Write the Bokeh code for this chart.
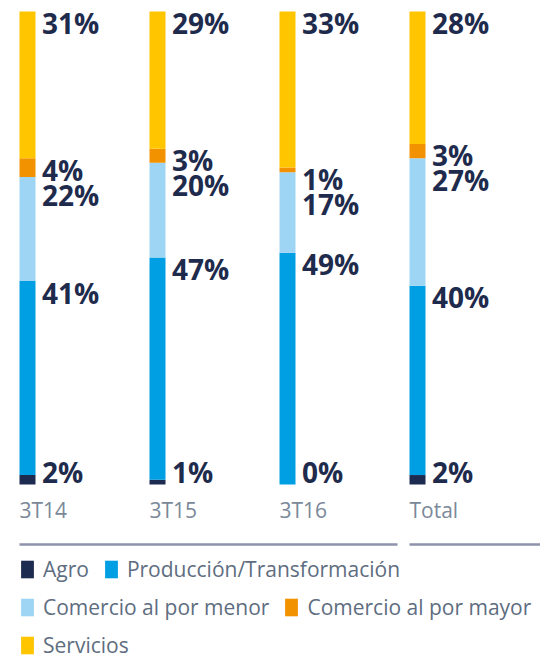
from bokeh.plotting import figure
from bokeh.models import ColumnDataSource, Range1d, Legend, LegendItem
from bokeh.core.properties import value
from bokeh.embed import file_html
from bokeh.resources import INLINE

categories = ["3T14", "3T15", "3T16", "Total"]
agro = [2, 1, 0, 2]
produccion = [41, 47, 49, 40]
menor = [22, 20, 17, 27]
mayor = [4, 3, 1, 3]
servicios = [31, 29, 33, 28]

series_names = ["Agro", "Producción/Transformación", "Comercio al por menor",
                "Comercio al por mayor", "Servicios"]
series_keys = ["agro", "produccion", "menor", "mayor", "servicios"]
colors = ["#1c2b4f", "#009fe3", "#9fd5f4", "#f39200", "#ffc600"]

W, H = 540, 664
PX_X = 130.0          # pixels per category step
PX_Y = 4.73           # pixels per percentage point
X0 = 27               # pixel x of first bar centre
Y100 = 11             # pixel y of 100 %
Y0 = Y100 + 100 * PX_Y

p = figure(width=W, height=H, output_backend="svg", toolbar_location=None,
           x_axis_type=None, y_axis_type=None, min_border=0,
           x_range=Range1d(-X0 / PX_X, (W - X0) / PX_X),
           y_range=Range1d(-(H - Y0) / PX_Y, 100 + Y100 / PX_Y))
p.grid.visible = False
p.outline_line_color = None
p.background_fill_color = "white"

xs = list(range(len(categories)))
src = ColumnDataSource(dict(x=xs, agro=agro, produccion=produccion, menor=menor,
                            mayor=mayor, servicios=servicios))
bar_w = 16 / PX_X
renderers = p.vbar_stack(series_keys, x="x", width=bar_w, color=colors,
                         line_color=None, source=src)

# value labels
dx = 14.5 / PX_X
py = 1 / PX_Y
lift = 11.5 * py      # correction for the rendered text baseline
lx, ly, lt = [], [], []
for i in xs:
    top_serv = 100
    top_mayor = 100 - servicios[i]
    top_menor = top_mayor - mayor[i]
    top_prod = top_menor - menor[i]
    b_serv = top_serv - 23 * py
    b_mayor = top_mayor - 23 * py
    b_menor = min(top_menor - 23 * py, b_mayor - 25 * py)
    b_prod = top_prod - 23 * py
    b_agro = 0 + 1 * py
    for b, v in [(b_serv, servicios[i]), (b_mayor, mayor[i]), (b_menor, menor[i]),
                 (b_prod, produccion[i]), (b_agro, agro[i])]:
        lx.append(i + dx)
        ly.append(b + lift)
        lt.append(f"{v}%")
p.text(x=lx, y=ly, text=lt, text_font=value("Open Sans"), text_font_style="bold",
       text_font_size="28px", text_color="#1e2b4c", text_baseline="alphabetic",
       text_align="left")

# category labels
p.text(x=[i - bar_w / 2 for i in xs], y=[-(518 - Y0) / PX_Y + 9 * py] * len(xs),
       text=categories, text_font=value("Open Sans"), text_font_size="21px",
       text_color="#7b8898", text_baseline="alphabetic", text_align="left")

# separator lines
ly_sep = -(544 - Y0) / PX_Y
left3 = 3 - bar_w / 2
p.line(x=[0 - bar_w / 2, left3 - 12 / PX_X], y=[ly_sep, ly_sep], line_color="#8e92aa",
       line_width=2.5)
p.line(x=[left3, (W - X0) / PX_X], y=[ly_sep, ly_sep], line_color="#8e92aa", line_width=2.5)

# legend rows
rows = [[0, 1], [2, 3], [4]]
row_bottoms = [81, 43, 5]
for idx, vy in zip(rows, row_bottoms):
    leg = Legend(items=[LegendItem(label=series_names[k], renderers=[renderers[k]]) for k in idx],
                 location=(19, vy), orientation="horizontal", padding=0, margin=0,
                 spacing=14, label_standoff=8, glyph_width=16, glyph_height=22,
                 label_text_font="Open Sans", label_text_font_size="21px",
                 label_text_color="#5e6d80", border_line_color=None,
                 background_fill_alpha=0, label_height=22)
    p.add_layout(leg, "center")

open("out.html", "w").write(file_html(p, INLINE))
